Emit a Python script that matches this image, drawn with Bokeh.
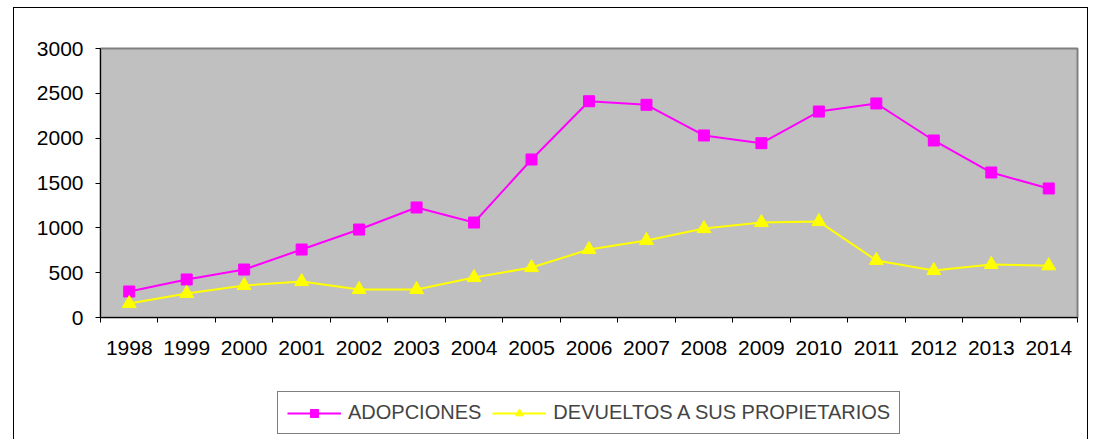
import numpy as np
from bokeh.plotting import figure
from bokeh.layouts import column
from bokeh.models import FixedTicker, Legend, LegendItem, Range1d
from bokeh.embed import file_html
from bokeh.resources import INLINE

years = ["1998", "1999", "2000", "2001", "2002", "2003", "2004", "2005", "2006",
         "2007", "2008", "2009", "2010", "2011", "2012", "2013", "2014"]
adopciones = [290, 424, 535, 758, 981, 1227, 1059, 1762, 2412, 2372, 2030, 1944,
              2297, 2387, 1974, 1617, 1439]
devueltos = [156, 268, 357, 401, 312, 312, 446, 557, 758, 859, 992, 1059,
             1070, 636, 524, 591, 577]
y_ticks = [0, 500, 1000, 1500, 2000, 2500, 3000]
series_names = ["ADOPCIONES", "DEVUELTOS A SUS PROPIETARIOS"]

FONT = "Liberation Sans"
MAGENTA = "#FF00FF"
YELLOW = "#FFFF00"

x = [i + 0.5 for i in range(len(years))]

# ---- main chart ----
p = figure(width=1073, height=377, output_backend="svg", toolbar_location=None,
           x_range=Range1d(0, len(years)), y_range=Range1d(0, 3000),
           min_border_left=86, min_border_right=10, min_border_top=40,
           min_border_bottom=68)
p.background_fill_color = "#C0C0C0"
p.border_fill_color = "white"
p.outline_line_color = "#808080"
p.outline_line_width = 2
p.xgrid.grid_line_color = None
p.ygrid.grid_line_color = None

xa = p.xaxis[0]
xa.ticker = FixedTicker(ticks=x, minor_ticks=list(range(len(years) + 1)))
xa.major_label_overrides = {xi: yr for xi, yr in zip(x, years)}
xa.major_tick_out = 0
xa.major_tick_in = 0
xa.minor_tick_out = 5
xa.minor_tick_in = 0
xa.minor_tick_line_color = "black"
xa.axis_line_color = "black"
xa.major_label_text_font = FONT
xa.major_label_text_font_size = "21px"
xa.major_label_text_color = "black"
xa.major_label_standoff = 18

ya = p.yaxis[0]
ya.ticker = FixedTicker(ticks=y_ticks)
ya.major_tick_out = 5
ya.major_tick_in = 0
ya.minor_tick_out = 0
ya.minor_tick_in = 0
ya.axis_line_color = "black"
ya.major_tick_line_color = "black"
ya.major_label_text_font = FONT
ya.major_label_text_font_size = "21px"
ya.major_label_text_color = "black"
ya.major_label_standoff = 12

p.line(x, adopciones, line_color=MAGENTA, line_width=2)
p.scatter(x, adopciones, marker="square", size=11,
          fill_color=MAGENTA, line_color=MAGENTA)
p.line(x, devueltos, line_color=YELLOW, line_width=2)
p.scatter(x, devueltos, marker="triangle", size=14,
          fill_color=YELLOW, line_color=YELLOW)

# ---- legend strip (its own y range keeps the series out of view) ----
q = figure(width=1073, height=54, output_backend="svg", toolbar_location=None,
           x_range=Range1d(0, len(years)), y_range=Range1d(-2, -1),
           x_axis_location=None, y_axis_location=None,
           min_border=0, min_border_left=0, min_border_right=0,
           min_border_top=0, min_border_bottom=0)
q.background_fill_color = "white"
q.border_fill_color = "white"
q.outline_line_color = None
q.xgrid.grid_line_color = None
q.ygrid.grid_line_color = None
l1 = q.line(x, adopciones, line_color=MAGENTA, line_width=2)
m1 = q.scatter(x, adopciones, marker="square", size=9,
               fill_color=MAGENTA, line_color=MAGENTA)
l2 = q.line(x, devueltos, line_color=YELLOW, line_width=2)
m2 = q.scatter(x, devueltos, marker="triangle", size=12,
               fill_color=YELLOW, line_color=YELLOW)

legend = Legend(
    items=[LegendItem(label=series_names[0], renderers=[l1, m1]),
           LegendItem(label=series_names[1], renderers=[l2, m2])],
    orientation="horizontal", location=(177, 5),
    glyph_width=54, glyph_height=20, label_standoff=7, spacing=11, padding=9,
    border_line_color="black", border_line_width=1,
    background_fill_color="white", background_fill_alpha=1.0,
    label_text_font=FONT, label_text_font_size="20px", label_height=20,
    margin=0,
)
q.add_layout(legend)

layout = column(p, q, spacing=0)
layout.styles = {"border-left": "1px solid black", "border-top": "1px solid black",
                 "border-right": "1px solid black", "border-bottom": "none"}
layout.margin = (7, 0, 0, 13)

open("out.html", "w").write(file_html(layout, INLINE))
